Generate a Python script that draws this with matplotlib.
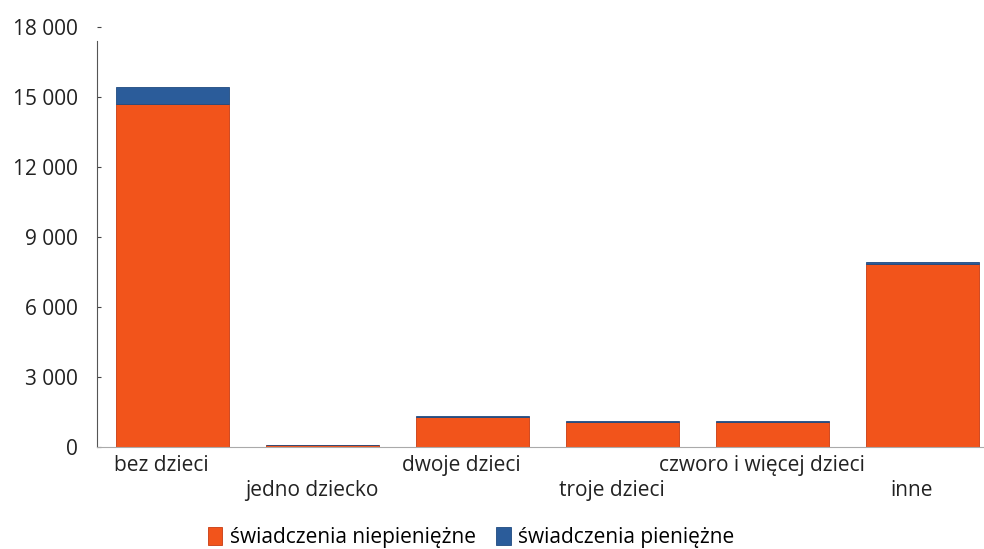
import matplotlib.pyplot as plt
import matplotlib.transforms as mtransforms
import numpy as np

kategorie = ['bez dzieci', 'jedno dziecko', 'dwoje dzieci', 'troje dzieci',
             'czworo i więcej dzieci', 'inne']
niepieniezne = [14700, 60, 1270, 1070, 1060, 7820]
pieniezne = [720, 10, 60, 45, 40, 110]
y_ticks = [0, 3000, 6000, 9000, 12000, 15000, 18000]
y_labels = ['0', '3 000', '6 000', '9 000', '12 000', '15 000', '18 000']

kolor_pom = '#f2541b'
kolor_nieb = '#2b5c9a'

plt.rcParams['font.family'] = ['Open Sans', 'DejaVu Sans']

fig = plt.figure(figsize=(9.84, 5.49), dpi=100)
ax = fig.add_axes([0.099, 0.186, 0.915, 0.765])

x = np.arange(len(kategorie))
ax.bar(x, niepieniezne, width=0.75, color=kolor_pom, edgecolor='#c83a10', linewidth=0.6,
       label='świadczenia niepieniężne')
ax.bar(x, pieniezne, width=0.75, bottom=niepieniezne, color=kolor_nieb, edgecolor='#1f4a80',
       linewidth=0.6, label='świadczenia pieniężne')

ax.set_xlim(-0.5, len(kategorie) - 0.5)
ax.set_ylim(0, 18000)
ax.set_yticks(y_ticks)
ax.set_yticklabels(y_labels, fontsize=15, color='#222222')
ax.tick_params(axis='y', length=3, direction='in', pad=14, color='#444444')

ax.set_xticks(x)
ax.set_xticklabels(kategorie, fontsize=15, color='#222222')
ax.tick_params(axis='x', length=0, pad=6)
offset = mtransforms.ScaledTranslation(-11 / 100, 0, fig.dpi_scale_trans)
for i, lab in enumerate(ax.get_xticklabels()):
    lab.set_transform(lab.get_transform() + offset)
    if i % 2 == 1:
        lab.set_y(-0.058)

for s in ['top', 'right']:
    ax.spines[s].set_visible(False)
ax.spines['left'].set_color('#555555')
ax.spines['left'].set_linewidth(0.8)
ax.spines['left'].set_bounds(0, 17400)
ax.spines['bottom'].set_color('#aaaaaa')
ax.spines['bottom'].set_linewidth(0.8)

ax.legend(loc='upper center', bbox_to_anchor=(0.415, -0.145), ncol=2, frameon=False,
          fontsize=15, handlelength=0.7, handleheight=1.0, handletextpad=0.35,
          columnspacing=1.0)

fig.savefig('out.png', dpi=100)
